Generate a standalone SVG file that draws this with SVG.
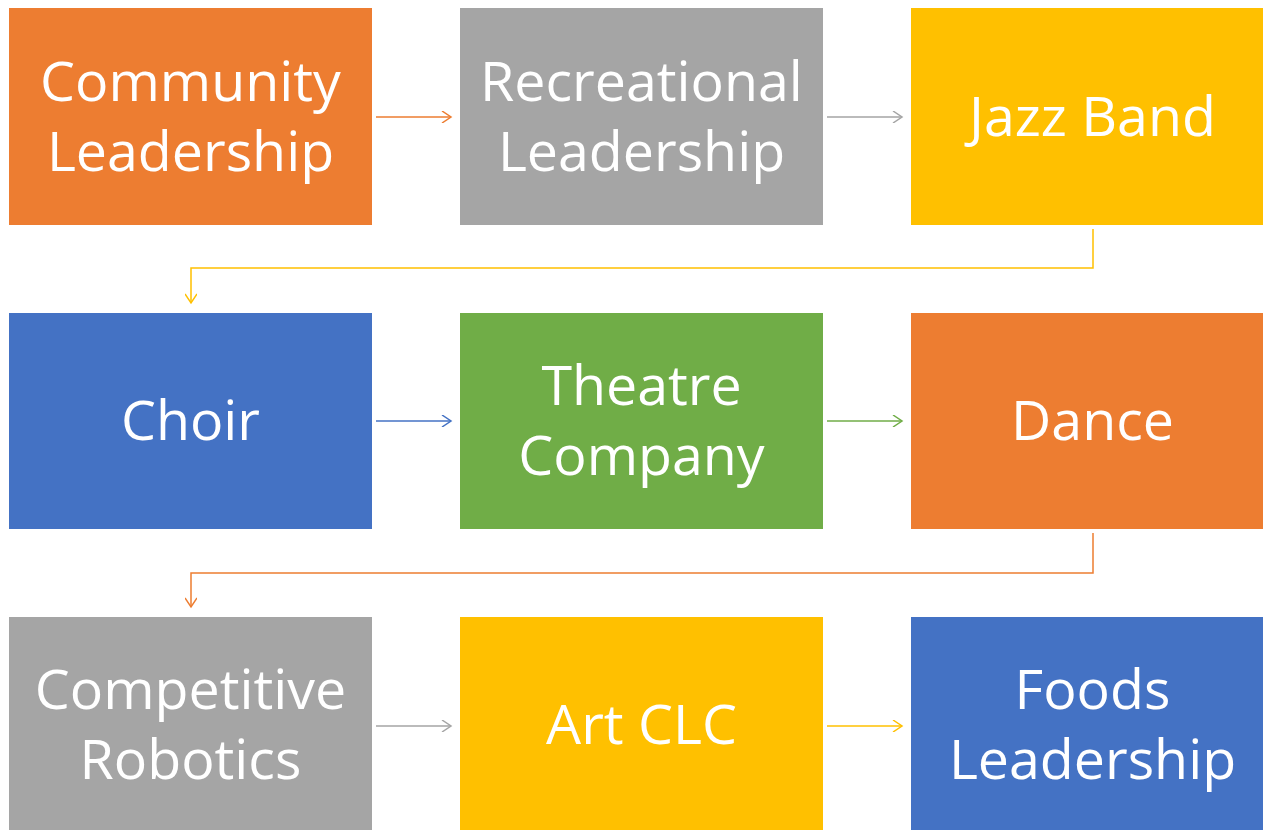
<svg xmlns="http://www.w3.org/2000/svg" width="1263" height="830" viewBox="0 0 1263 830">
<defs>
<style>
.t{font-family:"Open Sans","Liberation Sans",sans-serif;font-size:55.5px;fill:#fff;text-anchor:middle}
.c{fill:none;stroke-width:1.5}
</style>
<marker id="mo" markerWidth="12" markerHeight="12" refX="10" refY="6" orient="auto" markerUnits="userSpaceOnUse"><path d="M1,0 L10,6 L1,12" fill="none" stroke="#ED7D31" stroke-width="1.5"/></marker>
<marker id="mg" markerWidth="12" markerHeight="12" refX="10" refY="6" orient="auto" markerUnits="userSpaceOnUse"><path d="M1,0 L10,6 L1,12" fill="none" stroke="#A5A5A5" stroke-width="1.5"/></marker>
<marker id="my" markerWidth="12" markerHeight="12" refX="10" refY="6" orient="auto" markerUnits="userSpaceOnUse"><path d="M1,0 L10,6 L1,12" fill="none" stroke="#FFC000" stroke-width="1.5"/></marker>
<marker id="mb" markerWidth="12" markerHeight="12" refX="10" refY="6" orient="auto" markerUnits="userSpaceOnUse"><path d="M1,0 L10,6 L1,12" fill="none" stroke="#4472C4" stroke-width="1.5"/></marker>
<marker id="mn" markerWidth="12" markerHeight="12" refX="10" refY="6" orient="auto" markerUnits="userSpaceOnUse"><path d="M1,0 L10,6 L1,12" fill="none" stroke="#70AD47" stroke-width="1.5"/></marker>
</defs>
<rect width="1263" height="830" fill="#fff"/>
<g id="connectors">
<path class="c" stroke="#ED7D31" d="M376,117 H451" marker-end="url(#mo)"/>
<path class="c" stroke="#A5A5A5" d="M827,117 H902" marker-end="url(#mg)"/>
<path class="c" stroke="#FFC000" d="M1093,229 V268 H191 V303" marker-end="url(#my)"/>
<path class="c" stroke="#4472C4" d="M376,421 H451" marker-end="url(#mb)"/>
<path class="c" stroke="#70AD47" d="M827,421 H902" marker-end="url(#mn)"/>
<path class="c" stroke="#ED7D31" d="M1093,533 V573 H191 V607" marker-end="url(#mo)"/>
<path class="c" stroke="#A5A5A5" d="M376,726 H451" marker-end="url(#mg)"/>
<path class="c" stroke="#FFC000" d="M827,726 H902" marker-end="url(#my)"/>
</g>
<g id="n1"><rect x="9" y="8" width="363" height="217" fill="#ED7D31"/><text class="t" x="190.5" y="101">Community</text><text class="t" x="190.5" y="171">Leadership</text></g>
<g id="n2"><rect x="460" y="8" width="363" height="217" fill="#A5A5A5"/><text class="t" x="641.5" y="101">Recreational</text><text class="t" x="641.5" y="171">Leadership</text></g>
<g id="n3"><rect x="911" y="8" width="363" height="217" fill="#FFC000"/><text class="t" x="1092.5" y="136">Jazz Band</text></g>
<g id="n4"><rect x="9" y="313" width="363" height="216" fill="#4472C4"/><text class="t" x="190.5" y="440">Choir</text></g>
<g id="n5"><rect x="460" y="313" width="363" height="216" fill="#70AD47"/><text class="t" x="641.5" y="405">Theatre</text><text class="t" x="641.5" y="475">Company</text></g>
<g id="n6"><rect x="911" y="313" width="363" height="216" fill="#ED7D31"/><text class="t" x="1092.5" y="440">Dance</text></g>
<g id="n7"><rect x="9" y="617" width="363" height="217" fill="#A5A5A5"/><text class="t" x="190.5" y="709">Competitive</text><text class="t" x="190.5" y="779">Robotics</text></g>
<g id="n8"><rect x="460" y="617" width="363" height="217" fill="#FFC000"/><text class="t" x="641.5" y="744">Art CLC</text></g>
<g id="n9"><rect x="911" y="617" width="363" height="217" fill="#4472C4"/><text class="t" x="1092.5" y="709">Foods</text><text class="t" x="1092.5" y="779">Leadership</text></g>
</svg>
